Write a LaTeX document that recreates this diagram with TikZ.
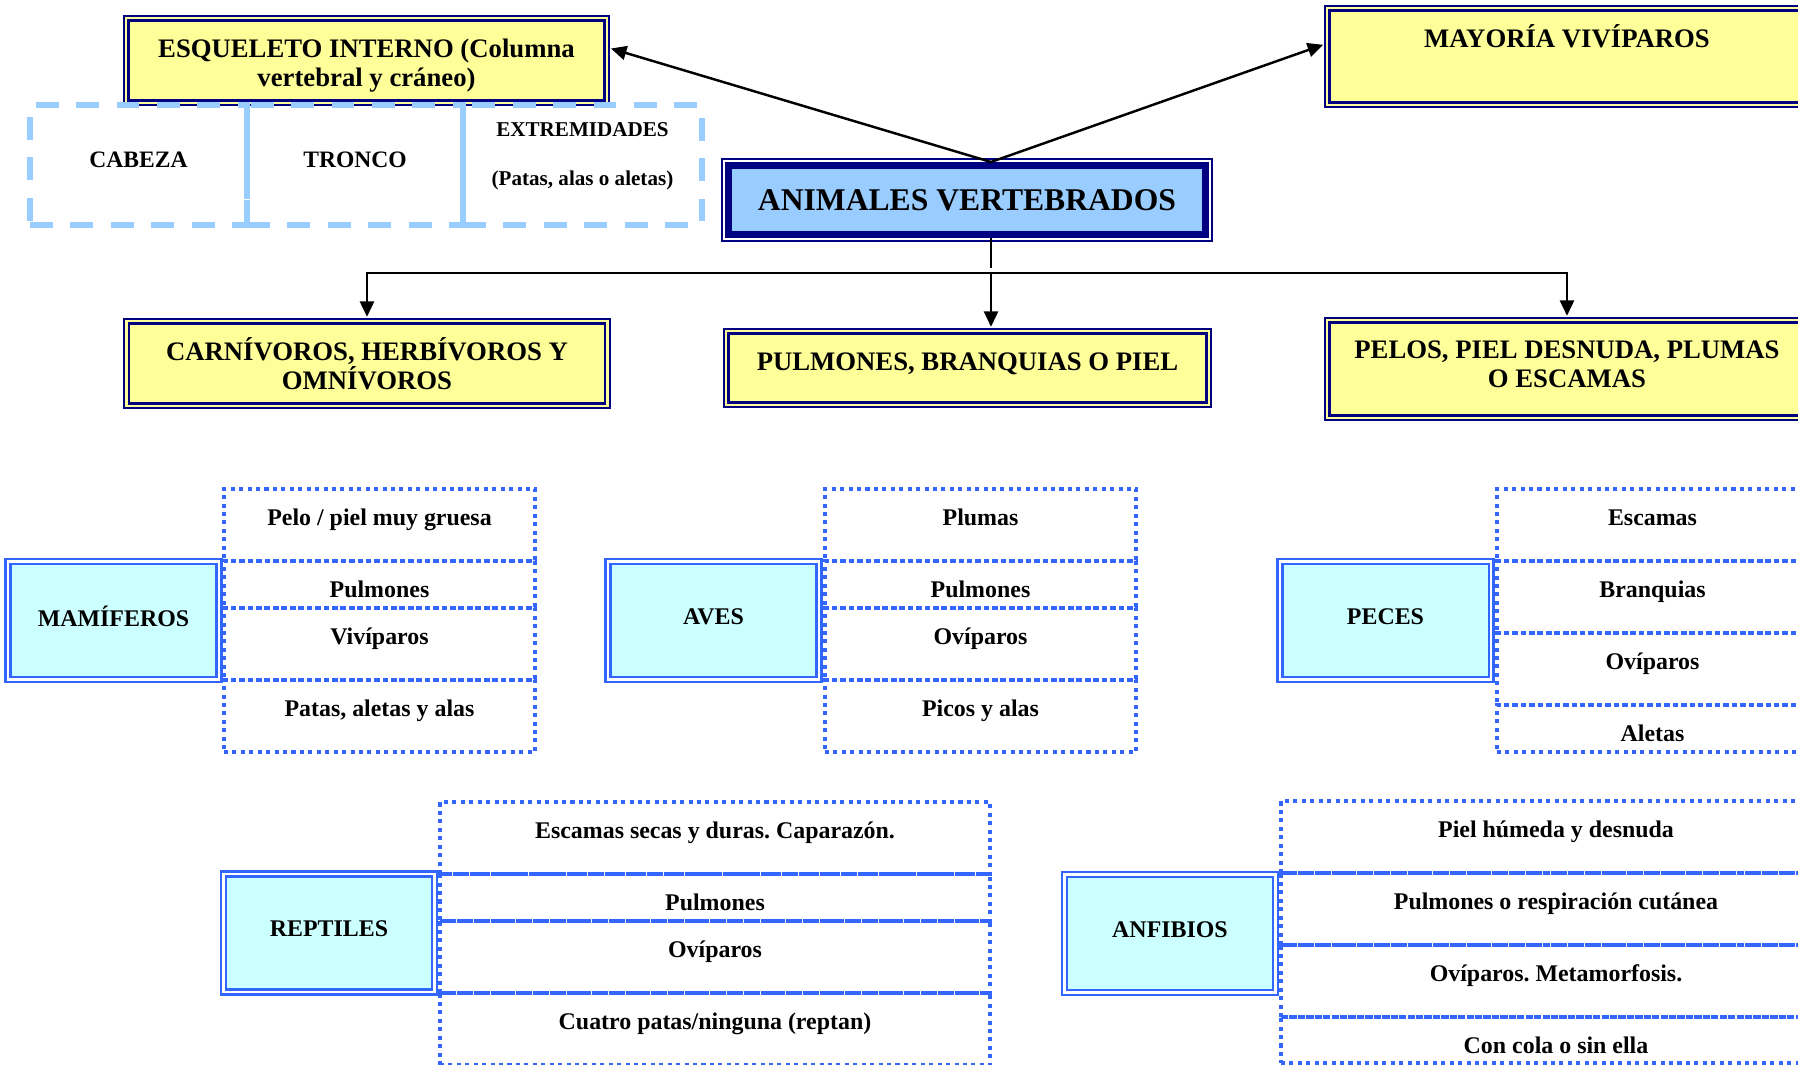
\documentclass[tikz,border=0pt]{standalone}
\usepackage{fontspec}
\setmainfont{Liberation Serif}
\usepackage{tikz}
\usetikzlibrary{arrows.meta}
\frenchspacing
\definecolor{yfill}{HTML}{FFFF99}
\definecolor{navy}{HTML}{000080}
\definecolor{lblue}{HTML}{99CCFF}
\definecolor{cfill}{HTML}{CCFFFF}
\definecolor{dblue}{HTML}{3366FF}
\tikzset{>={Triangle[length=4.4pt,width=4pt]}}
\tikzset{
  headtext/.style={font=\fontsize{7.6}{8.2}\selectfont\bfseries, align=center},
  ybox/.style={headtext, fill=yfill, draw=navy, line width=0.8pt, inner ysep=0pt, text height=3.7mm,
    preaction={draw=navy, line width=0.5pt, double=yfill, double distance=2.2pt}},
  abox/.style={fill=lblue, draw=navy, line width=2pt, font=\fontsize{9}{10}\selectfont\bfseries,
    preaction={draw=navy, line width=0.5pt, double=white, double distance=3.2pt}},
  partbox/.style={draw=lblue, line width=1.6pt, dash pattern=on 6.5pt off 5pt, text depth=1mm,
    minimum height=1.2cm, font=\fontsize{6.7}{8}\selectfont\bfseries, align=center},
  cbox/.style={fill=cfill, draw=dblue, double=white, line width=0.7pt, double distance=0.6pt, text depth=0.8mm,
    minimum width=2.11cm, minimum height=1.18cm, font=\fontsize{6.8}{8}\selectfont\bfseries},
  itembox/.style={draw=dblue, line width=1.15pt, dash pattern=on 1.15pt off 1.25pt, inner sep=0pt, outer sep=0pt,
    text height=3.6mm, anchor=north, font=\fontsize{6.8}{8}\selectfont\bfseries},
  tallrow/.style={minimum height=7.2mm, text depth=3.6mm},
  lowrow/.style={minimum height=4.7mm, text depth=1.1mm},
  conn/.style={line width=0.7pt, shorten >=1.5pt}
}
\begin{document}
\begin{tikzpicture}
\useasboundingbox (0,0) rectangle (17.98,-10.65);
\clip (0,0) rectangle (17.98,-10.65);

% parte de arriba
\node[ybox, minimum width=4.76cm, minimum height=0.80cm, text height=6.6mm, text depth=1.4mm] (esq) at (3.665,-0.605) {ESQUELETO INTERNO (Columna\\vertebral y cráneo)};
\node[partbox, minimum width=2.17cm] (cab) at (1.385,-1.65) {CABEZA};
\node[partbox, minimum width=2.16cm] (tro) at (3.55,-1.65) {TRONCO};
\node[partbox, minimum width=2.39cm, text depth=2.2mm, font=\fontsize{6}{14}\selectfont\bfseries] (ext) at (5.825,-1.65) {EXTREMIDADES\\(Patas, alas o aletas)};
\node[ybox, minimum width=4.75cm, minimum height=0.92cm, text depth=5.5mm] (may) at (15.67,-0.565) {MAYORÍA VIVÍPAROS};
\node[abox, minimum width=4.77cm, minimum height=0.69cm] (anim) at (9.67,-2.00) {ANIMALES VERTEBRADOS};

\node[ybox, minimum width=4.76cm, minimum height=0.80cm, text height=6.6mm, text depth=1.4mm] (carn) at (3.67,-3.635) {CARNÍVOROS, HERBÍVOROS Y\\OMNÍVOROS};
\node[ybox, minimum width=4.78cm, minimum height=0.69cm, text depth=3.2mm] (pulm) at (9.675,-3.68) {PULMONES, BRANQUIAS O PIEL};
\node[ybox, minimum width=4.75cm, minimum height=0.93cm, text height=6.5mm, text depth=2.8mm] (pelos) at (15.67,-3.69) {PELOS, PIEL DESNUDA, PLUMAS\\O ESCAMAS};

\coordinate (bus) at (9.91,-2.73);
\draw[conn,->] (anim.north -| bus) -- ([yshift=0.135cm]esq.east);
\draw[conn,->] (anim.north -| bus) -- ([yshift=0.135cm]may.west);
\draw[conn] (anim.south -| bus) -- (bus);
\draw[conn,->] (bus) -| (carn.north);
\draw[conn,->] (bus) -- (bus |- pulm.north);
\draw[conn,->] (bus) -| (pelos.north);

% grupos
\node[cbox] (mam) at (1.135,-6.205) {MAMÍFEROS};
\node[itembox, tallrow, minimum width=3.11cm] (m1) at (3.795,-4.89) {Pelo / piel muy gruesa};
\node[itembox, lowrow, minimum width=3.11cm] (m2) at (m1.south) {Pulmones};
\node[itembox, tallrow, minimum width=3.11cm] (m3) at (m2.south) {Vivíparos};
\node[itembox, tallrow, minimum width=3.11cm] (m4) at (m3.south) {Patas, aletas y alas};

\node[cbox] (aves) at (7.135,-6.205) {AVES};
\node[itembox, tallrow, minimum width=3.11cm] (a1) at (9.805,-4.89) {Plumas};
\node[itembox, lowrow, minimum width=3.11cm] (a2) at (a1.south) {Pulmones};
\node[itembox, tallrow, minimum width=3.11cm] (a3) at (a2.south) {Ovíparos};
\node[itembox, tallrow, minimum width=3.11cm] (a4) at (a3.south) {Picos y alas};

\node[cbox] (pec) at (13.855,-6.205) {PECES};
\node[itembox, tallrow, minimum width=3.11cm] (p1) at (16.525,-4.89) {Escamas};
\node[itembox, tallrow, minimum width=3.11cm] (p2) at (p1.south) {Branquias};
\node[itembox, tallrow, minimum width=3.11cm] (p3) at (p2.south) {Ovíparos};
\node[itembox, lowrow, minimum width=3.11cm] (p4) at (p3.south) {Aletas};

\node[cbox] (rept) at (3.29,-9.33) {REPTILES};
\node[itembox, tallrow, minimum width=5.50cm] (r1) at (7.15,-8.02) {Escamas secas y duras. Caparazón.};
\node[itembox, lowrow, minimum width=5.50cm] (r2) at (r1.south) {Pulmones};
\node[itembox, tallrow, minimum width=5.50cm] (r3) at (r2.south) {Ovíparos};
\node[itembox, tallrow, minimum height=7.0mm, minimum width=5.50cm] (r4) at (r3.south) {Cuatro patas/ninguna (reptan)};

\node[cbox] (anf) at (11.70,-9.335) {ANFIBIOS};
\node[itembox, tallrow, minimum width=5.50cm] (f1) at (15.56,-8.01) {Piel húmeda y desnuda};
\node[itembox, tallrow, minimum width=5.50cm] (f2) at (f1.south) {Pulmones o respiración cutánea};
\node[itembox, tallrow, minimum height=7.1mm, minimum width=5.50cm] (f3) at (f2.south) {Ovíparos. Metamorfosis.};
\node[itembox, lowrow, minimum height=4.6mm, text depth=1.0mm, minimum width=5.50cm] (f4) at (f3.south) {Con cola o sin ella};
\end{tikzpicture}
\end{document}
